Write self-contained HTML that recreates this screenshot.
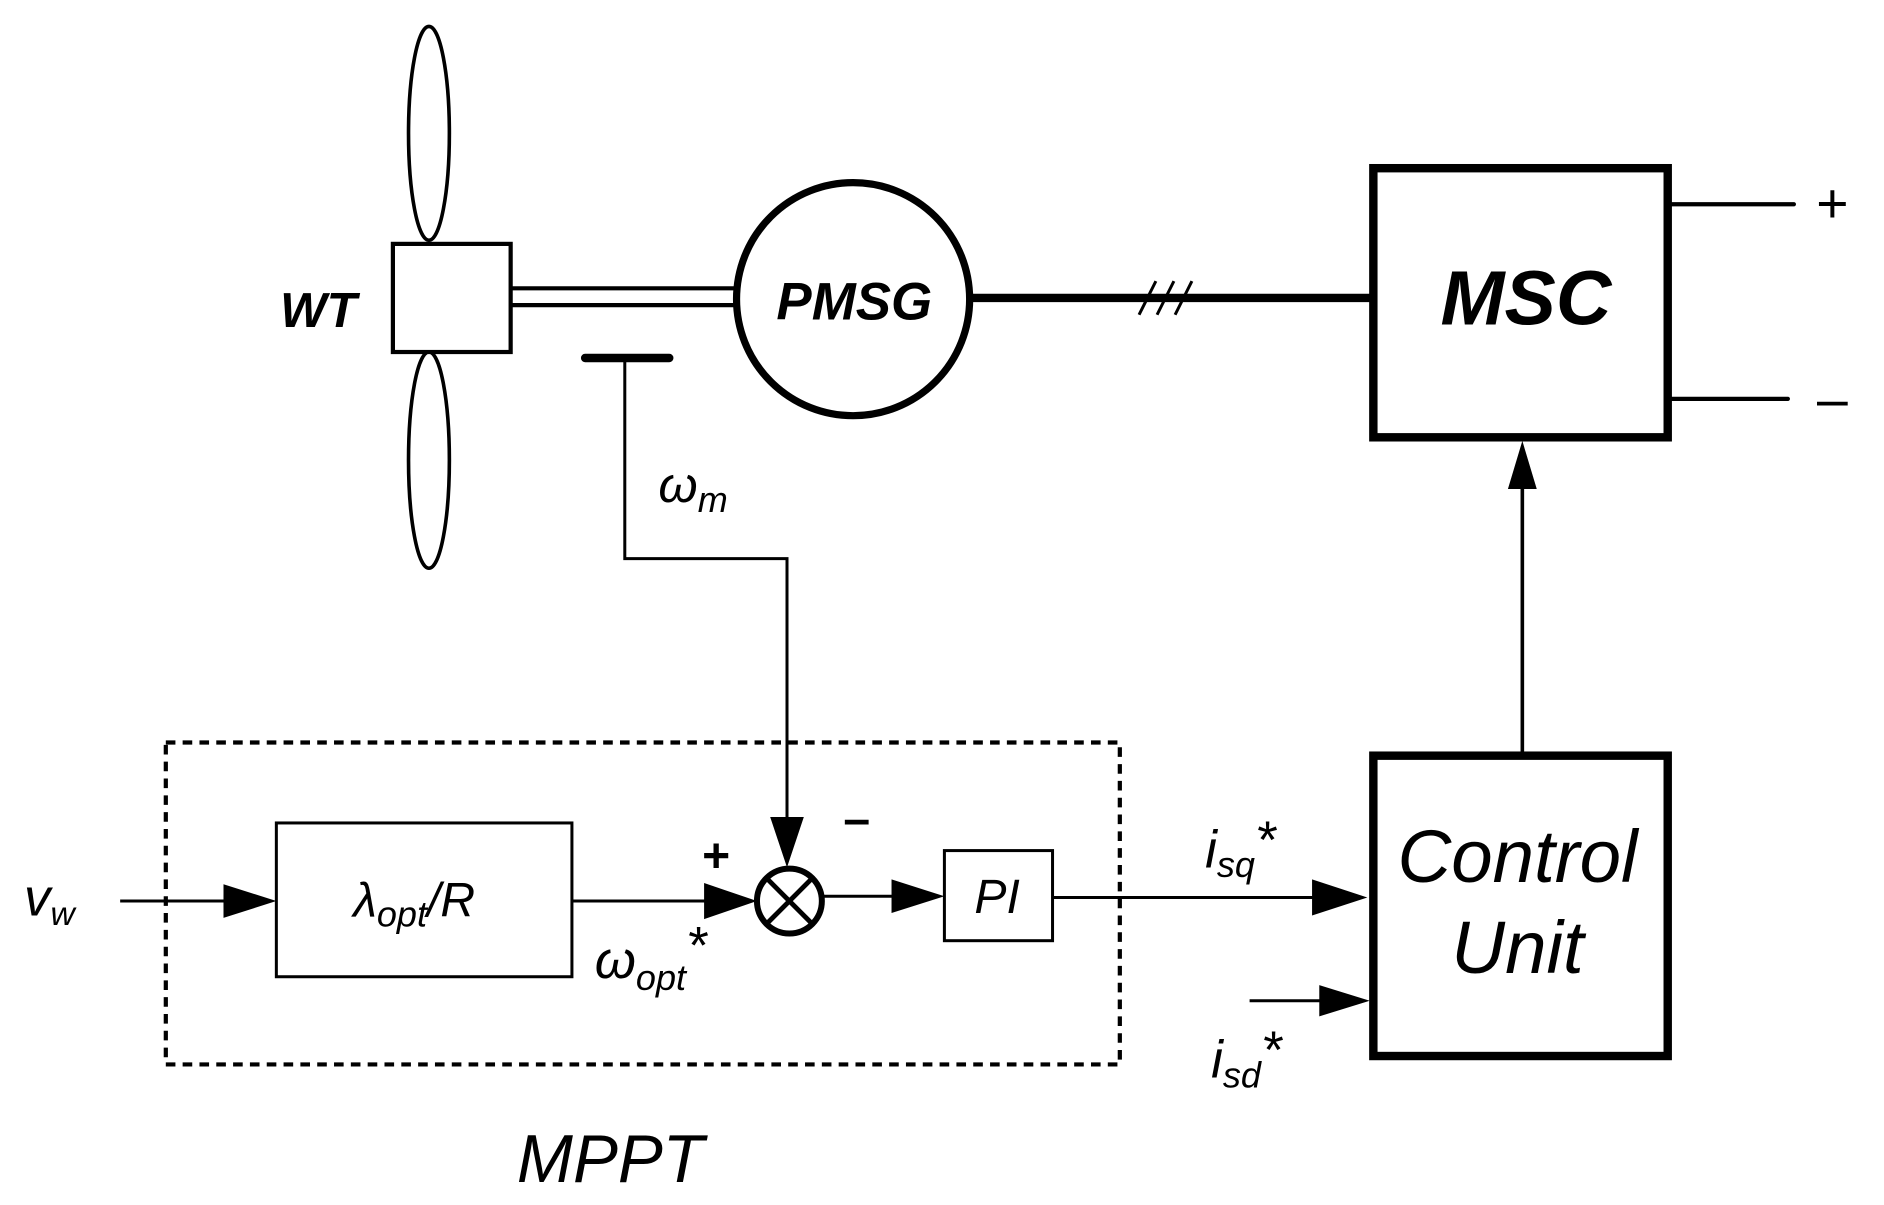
<!DOCTYPE html>
<html><head><meta charset="utf-8"><style>
html,body{margin:0;padding:0;background:#fff;}
svg{display:block;}
text{font-family:"Liberation Sans",Arial,sans-serif;fill:#000;}
</style></head><body>
<svg width="1884" height="1205" viewBox="0 0 1568 1003" preserveAspectRatio="none" xmlns="http://www.w3.org/2000/svg">
<g fill="none" stroke="#000">
  <ellipse cx="357" cy="111" rx="17" ry="89" stroke-width="3"/>
  <ellipse cx="357" cy="383" rx="17" ry="90" stroke-width="3"/>
  <rect x="327" y="203" width="98" height="90" fill="#fff" stroke-width="3.5"/>
  <line x1="425" y1="240" x2="612" y2="240" stroke-width="3.5"/>
  <line x1="425" y1="254" x2="612" y2="254" stroke-width="3.5"/>
  <circle cx="710" cy="249" r="97" stroke-width="6"/>
  <line x1="807" y1="248" x2="1142" y2="248" stroke-width="7"/>
  <line x1="948" y1="262" x2="962" y2="234" stroke-width="2.5"/>
  <line x1="963" y1="262" x2="977" y2="234" stroke-width="2.5"/>
  <line x1="978" y1="262" x2="992" y2="234" stroke-width="2.5"/>
  <rect x="1143" y="140" width="245" height="224" stroke-width="7"/>
  <line x1="1389" y1="170" x2="1493" y2="170" stroke-width="3.5" stroke-linecap="round"/>
  <line x1="1389" y1="332" x2="1488" y2="332" stroke-width="3.5" stroke-linecap="round"/>
  <rect x="1143" y="629" width="245" height="250" stroke-width="7"/>
  <line x1="1267" y1="627" x2="1267" y2="400" stroke-width="3"/>
  <line x1="487" y1="298" x2="557" y2="298" stroke-width="7" stroke-linecap="round"/>
  <polyline points="520,300 520,465 655,465 655,690" stroke-width="2.5"/>
  <rect x="138" y="618" width="794" height="268" stroke-width="3.5" stroke-dasharray="8,6"/>
  <rect x="230" y="685" width="246" height="128" stroke-width="2.5"/>
  <line x1="100" y1="750" x2="195" y2="750" stroke-width="2.5"/>
  <line x1="476" y1="750" x2="595" y2="750" stroke-width="2.5"/>
  <circle cx="657" cy="750" r="27" stroke-width="5"/>
  <line x1="638" y1="731" x2="676" y2="769" stroke-width="4"/>
  <line x1="676" y1="731" x2="638" y2="769" stroke-width="4"/>
  <line x1="684" y1="746" x2="745" y2="746" stroke-width="2.5"/>
  <rect x="786" y="708" width="90" height="75" stroke-width="2.5"/>
  <line x1="876" y1="747" x2="1095" y2="747" stroke-width="2.5"/>
  <line x1="1040" y1="833" x2="1100" y2="833" stroke-width="2.5"/>
</g>
<g fill="#000">
  <polygon points="1267,367 1255,407 1279,407"/>
  <polygon points="230,750 186,736 186,764"/>
  <polygon points="630,750 586,735 586,765"/>
  <polygon points="655,722 641,680 669,680"/>
  <polygon points="786,746 742,732 742,760"/>
  <polygon points="1138,747 1092,732 1092,762"/>
  <polygon points="1140,833 1098,820 1098,846"/>
</g>
<g font-style="italic">
  <text x="265" y="272" font-size="41" font-weight="bold" text-anchor="middle">WT</text>
  <text x="711" y="266" font-size="44" font-weight="bold" text-anchor="middle">PMSG</text>
  <text x="1270" y="270" font-size="64" font-weight="bold" text-anchor="middle">MSC</text>
  <text x="1263" y="734" font-size="62" text-anchor="middle">Control</text>
  <text x="1263" y="810" font-size="62" text-anchor="middle">Unit</text>
  <text x="548" y="418" font-size="42">ω<tspan font-size="30" dy="8">m</tspan></text>
  <text x="20" y="762" font-size="44">v<tspan font-size="28" dy="8">w</tspan></text>
  <text x="294" y="763" font-size="40">λ<tspan font-size="30" dy="8">opt</tspan><tspan dy="-8">/R</tspan></text>
  <text x="495" y="814" font-size="44">ω<tspan font-size="30" dy="10">opt</tspan><tspan font-size="44" dy="-22">*</tspan></text>
  <text x="811" y="760" font-size="40">PI</text>
  <text x="1003" y="722" font-size="44">i<tspan font-size="30" dy="8">sq</tspan><tspan font-size="44" dy="-16">*</tspan></text>
  <text x="1008" y="897" font-size="44">i<tspan font-size="30" dy="8">sd</tspan><tspan font-size="44" dy="-16">*</tspan></text>
  <text x="508" y="984" font-size="56" text-anchor="middle">MPPT</text>
</g>
<g text-anchor="middle">
  <text x="596" y="726" font-size="40" font-weight="bold">+</text>
  <text x="713" y="695" font-size="40" font-weight="bold">–</text>
  <text x="1525" y="185" font-size="46">+</text>
  <text x="1525" y="348" font-size="46">–</text>
</g>
</svg>
</body></html>
